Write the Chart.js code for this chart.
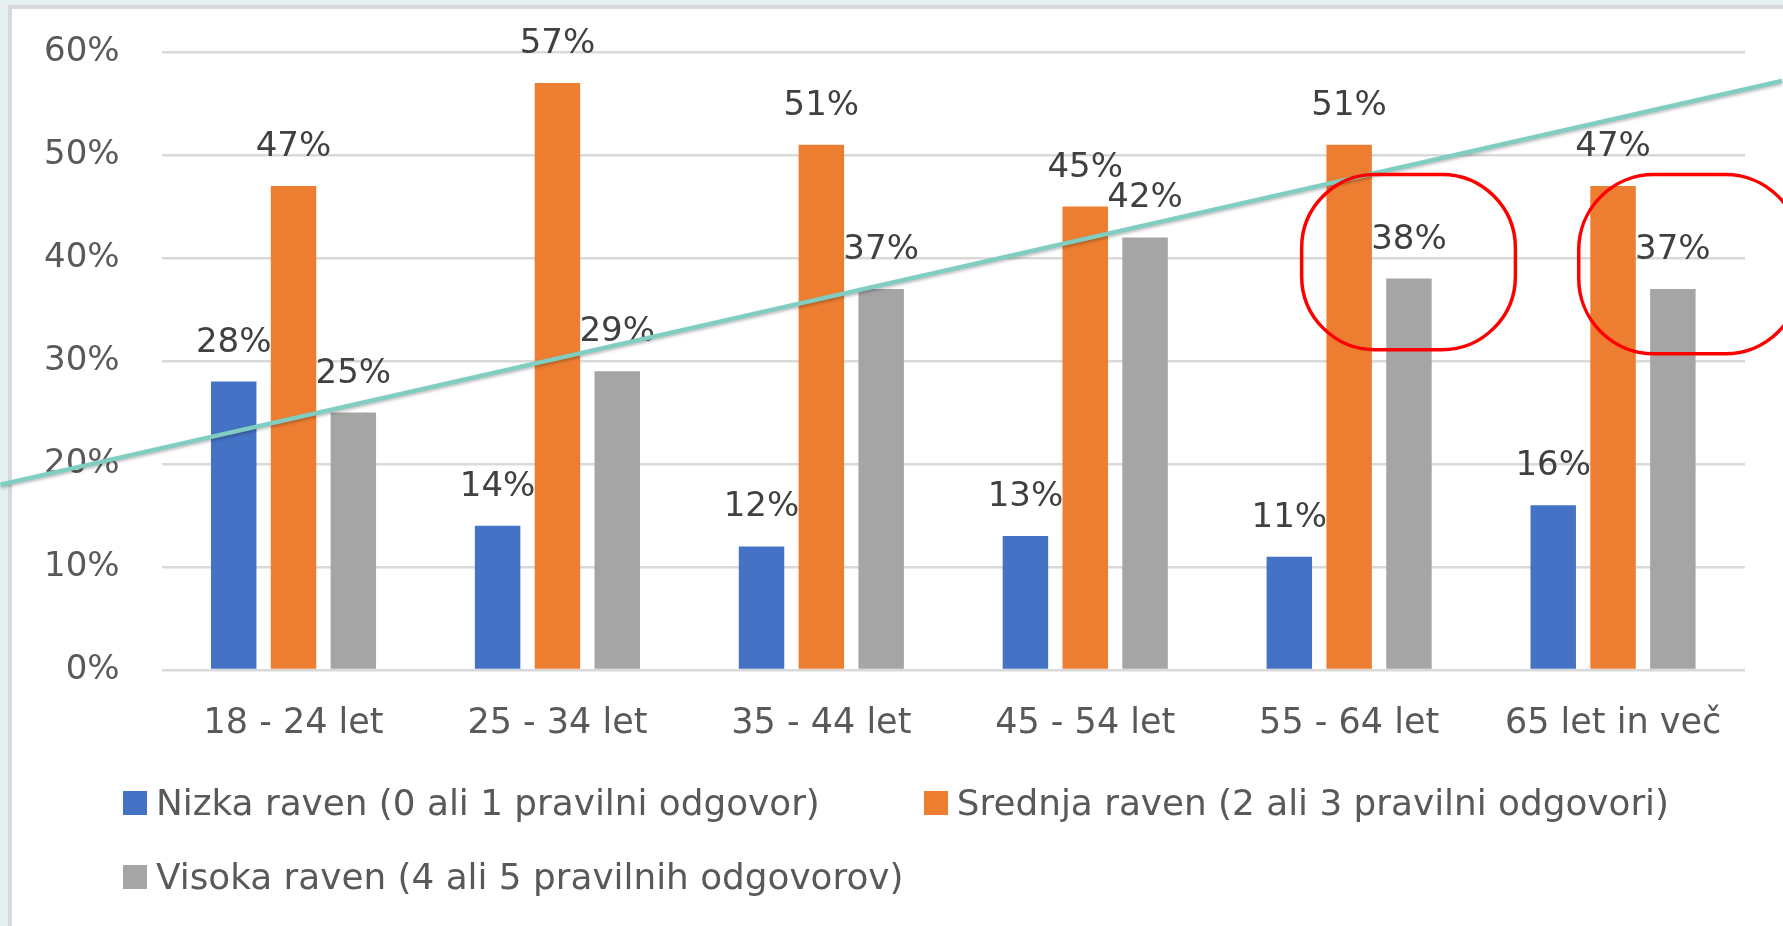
<!DOCTYPE html>
<html>
<head>
<meta charset="utf-8">
<script src="https://cdn.jsdelivr.net/npm/chart.js@4.4.1/dist/chart.umd.min.js"></script>
<style>
	html, body { margin: 0; padding: 0; width: 1783px; height: 926px; overflow: hidden; background: #e5f1f1; }
	#panel { position: absolute; left: 8px; top: 5px; width: 1800px; height: 950px; background: #fff; border: 4px solid #d9d9d9; box-sizing: border-box; }
	#chart { position: absolute; left: 0; top: 0; }
	#legend { position: absolute; left: 123px; top: 782px; width: 1620px; display: flex; flex-wrap: wrap; column-gap: 104px; row-gap: 32px;
		font-family: "DejaVu Sans"; font-size: 35.8px; line-height: 42px; color: #595959; }
	.item { display: flex; align-items: center; white-space: nowrap; }
	.swatch { width: 24px; height: 24px; margin-right: 9px; }
</style>
</head>
<body>
<div id="panel"></div>
<canvas id="chart" width="1783" height="926"></canvas>
<div id="legend"></div>
<script>
var categories = ['18 - 24 let', '25 - 34 let', '35 - 44 let', '45 - 54 let', '55 - 64 let', '65 let in več'];
var seriesNames = [
	'Nizka raven (0 ali 1 pravilni odgovor)',
	'Srednja raven (2 ali 3 pravilni odgovori)',
	'Visoka raven (4 ali 5 pravilnih odgovorov)'
];
var nizka = [28, 14, 12, 13, 11, 16];
var srednja = [47, 57, 51, 45, 51, 47];
var visoka = [25, 29, 37, 42, 38, 37];
var yTicks = [0, 10, 20, 30, 40, 50, 60];

// hand drawn marks on the screenshot, in axis units (category index, percent)
var penLine = [[-1.11, 18.0], [5.64, 57.2]];
var penLoops = [[3.82, 4.63, 48.1, 31.1], [4.87, 5.71, 48.1, 30.7]];

var colors = ['#4472C4', '#ED7D31', '#A5A5A5'];

Chart.defaults.font.family = '"DejaVu Sans"';

var barLabels = {
	id: 'barLabels',
	afterDatasetsDraw: function (chart) {
		var ctx = chart.ctx;
		ctx.save();
		ctx.font = '34px "DejaVu Sans"';
		ctx.fillStyle = '#404040';
		ctx.textAlign = 'center';
		ctx.textBaseline = 'alphabetic';
		chart.data.datasets.forEach(function (ds, i) {
			chart.getDatasetMeta(i).data.forEach(function (bar, j) {
				ctx.fillText(ds.data[j] + '%', bar.x, bar.y - 30);
			});
		});
		ctx.restore();
	}
};

var penMarks = {
	id: 'penMarks',
	afterDraw: function (chart) {
		var x = chart.scales.x;
		var y = chart.scales.y;
		var ctx = chart.ctx;

		ctx.save();
		ctx.strokeStyle = '#80cdc1';
		ctx.lineWidth = 4.5;
		ctx.shadowColor = 'rgba(0, 0, 0, 0.25)';
		ctx.shadowBlur = 3;
		ctx.shadowOffsetY = 2;
		ctx.beginPath();
		ctx.moveTo(x.getPixelForValue(penLine[0][0]), y.getPixelForValue(penLine[0][1]));
		ctx.lineTo(x.getPixelForValue(penLine[1][0]), y.getPixelForValue(penLine[1][1]));
		ctx.stroke();
		ctx.restore();

		ctx.save();
		ctx.strokeStyle = '#ff0000';
		ctx.lineWidth = 3.5;
		penLoops.forEach(function (b) {
			var l = x.getPixelForValue(b[0]);
			var r = x.getPixelForValue(b[1]);
			var t = y.getPixelForValue(b[2]);
			var btm = y.getPixelForValue(b[3]);
			ctx.beginPath();
			ctx.roundRect(l, t, r - l, btm - t, Math.min(r - l, btm - t) * 0.42);
			ctx.stroke();
		});
		ctx.restore();
	}
};

var chart = new Chart(document.getElementById('chart'), {
	type: 'bar',
	data: {
		labels: categories,
		datasets: [
			{ label: seriesNames[0], data: nizka, backgroundColor: colors[0] },
			{ label: seriesNames[1], data: srednja, backgroundColor: colors[1] },
			{ label: seriesNames[2], data: visoka, backgroundColor: colors[2] }
		]
	},
	options: {
		responsive: false,
		animation: false,
		devicePixelRatio: 1,
		categoryPercentage: 0.68,
		barPercentage: 0.76,
		layout: { padding: { left: 32, right: 38, top: 52, bottom: 157 } },
		plugins: {
			legend: { display: false },
			tooltip: { enabled: false }
		},
		scales: {
			x: {
				grid: { display: false },
				border: { display: false },
				ticks: { color: '#595959', font: { size: 35 }, padding: 24.5 }
			},
			y: {
				min: 0,
				max: 60,
				afterBuildTicks: function (scale) {
					scale.ticks = yTicks.map(function (v) { return { value: v }; });
				},
				grid: { color: '#d9d9d9', lineWidth: 2.5, drawTicks: true, tickLength: 30, tickColor: 'rgba(0,0,0,0)' },
				border: { display: false },
				ticks: {
					color: '#595959',
					font: { size: 34 },
					padding: 12,
					callback: function (v) { return v + '%'; }
				}
			}
		}
	},
	plugins: [barLabels, penMarks]
});

// legend as html, left aligned like the original
var legendBox = document.getElementById('legend');
chart.data.datasets.forEach(function (ds) {
	var item = document.createElement('div');
	item.className = 'item';
	var swatch = document.createElement('span');
	swatch.className = 'swatch';
	swatch.style.background = ds.backgroundColor;
	var text = document.createElement('span');
	text.textContent = ds.label;
	item.appendChild(swatch);
	item.appendChild(text);
	legendBox.appendChild(item);
});
</script>
</body>
</html>
